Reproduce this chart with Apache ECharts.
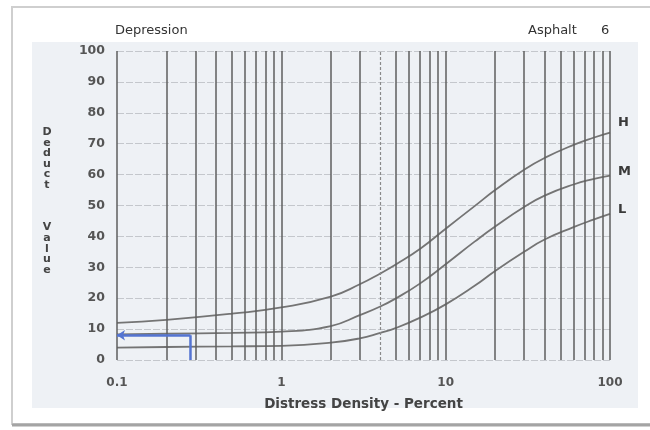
<!DOCTYPE html>
<html>
<head>
<meta charset="utf-8">
<script src="https://cdn.jsdelivr.net/npm/echarts@6/dist/echarts.min.js"></script>
<style>
  html, body { margin: 0; padding: 0; background: #ffffff; }
  #chart { width: 650px; height: 430px; }
</style>
</head>
<body>
<div id="chart"></div>
<script>
// Distress density (percent) sample points shared by the three severity curves
const densities = [0.1, 0.2, 0.5, 1, 2, 3, 4, 5, 7, 10, 15, 20, 30, 40, 60, 80, 100];
// Deduct values per severity level
const highValues   = [12, 13, 15, 17, 20.5, 24.5, 28, 31, 36, 42.5, 49.8, 55, 61.6, 65.4, 69.6, 72, 73.6];
const mediumValues = [8.3, 8.5, 8.8, 9.2, 11, 14.5, 17.3, 20, 24.8, 31, 38.3, 43.2, 49.5, 53.2, 56.8, 58.6, 59.7];
const lowValues    = [4, 4.2, 4.4, 4.6, 5.6, 7, 8.8, 10.4, 13.7, 18, 24, 28.8, 35, 39, 43, 45.5, 47.3];
// Example reading: density 0.28 % -> deduct value 8
const exampleDensity = 0.28;
const exampleDeduct = 8;
// Log-paper vertical rulings
const rulings = [0.1, 0.2, 0.3, 0.4, 0.5, 0.6, 0.7, 0.8, 0.9,
                 1, 2, 3, 4, 5, 6, 7, 8, 9,
                 10, 20, 30, 40, 50, 60, 70, 80, 90, 100];
const dashedRulings = [4];
const yTicks = [0, 10, 20, 30, 40, 50, 60, 70, 80, 90, 100];

const pairs = vals => densities.map((d, i) => [d, vals[i]]);

const chart = echarts.init(document.getElementById('chart'), null, { renderer: 'canvas' });

const curveStyle = { color: '#747474', width: 1.8 };
const endLabel = (dy) => ({
  show: true,
  formatter: '{a}',
  offset: [8, dy],
  distance: 0,
  color: '#3a3a3a',
  fontFamily: 'DejaVu Sans',
  fontWeight: 'bold',
  fontSize: 13
});
const curve = (name, vals, dy) => ({
  name, type: 'line', data: pairs(vals), smooth: 0.5, symbol: 'none',
  lineStyle: curveStyle, itemStyle: { color: '#747474' }, z: 3, endLabel: endLabel(dy)
});

chart.setOption({
  animation: false,
  backgroundColor: '#ffffff',
  graphic: [
    { type: 'rect', z: -10, shape: { x: 12, y: 7, width: 700, height: 417 },
      style: { fill: '#ffffff', stroke: '#cfcfcf', lineWidth: 2 } },
    { type: 'line', z: -9, shape: { x1: 12, y1: 425, x2: 650, y2: 425 },
      style: { stroke: '#a4a4a4', lineWidth: 3 } },
    { type: 'rect', z: -8, shape: { x: 32, y: 42, width: 606, height: 366 },
      style: { fill: '#eef1f5' } },
    { type: 'text', left: 115, top: 24,
      style: { text: 'Depression', fill: '#333', font: '13px "DejaVu Sans"' } },
    { type: 'text', left: 528, top: 24,
      style: { text: 'Asphalt', fill: '#333', font: '13px "DejaVu Sans"' } },
    { type: 'text', left: 601, top: 24,
      style: { text: '6', fill: '#333', font: '13px "DejaVu Sans"' } },
    { type: 'text', x: 47, y: 201,
      style: { text: 'D\ne\nd\nu\nc\nt\n\n\n\nV\na\nl\nu\ne', fill: '#444',
               font: 'bold 11px "DejaVu Sans"', lineHeight: 10.6,
               align: 'center', verticalAlign: 'middle' } }
  ],
  grid: { left: 117, right: 40, top: 51, bottom: 70, containLabel: false },
  xAxis: {
    type: 'log', logBase: 10, min: 0.1, max: 100,
    name: 'Distress Density - Percent',
    nameLocation: 'middle', nameGap: 37,
    nameTextStyle: { color: '#444', fontFamily: 'DejaVu Sans', fontWeight: 'bold', fontSize: 13.5 },
    axisLine: { show: false },
    axisTick: { show: false },
    splitLine: { show: false },
    axisLabel: { margin: 17, color: '#555', fontFamily: 'DejaVu Sans', fontWeight: 'bold', fontSize: 12,
                 formatter: v => String(v) }
  },
  yAxis: {
    type: 'value', min: yTicks[0], max: yTicks[yTicks.length - 1], interval: 10,
    axisLine: { show: false },
    axisTick: { show: false },
    axisLabel: { margin: 12, color: '#555', fontFamily: 'DejaVu Sans', fontWeight: 'bold', fontSize: 12.5 },
    splitLine: { show: true, lineStyle: { color: '#c4c7cc', width: 1, type: [7, 2] } }
  },
  series: [
    {
      name: 'rulings', type: 'line', data: [], silent: true, z: 1,
      markLine: {
        silent: true, symbol: 'none', label: { show: false }, animation: false,
        data: rulings.map(v => ({
          xAxis: v,
          lineStyle: dashedRulings.includes(v)
            ? { color: '#8a8a8a', width: 1.2, type: [3, 2] }
            : { color: '#5e5e5e', width: 1.5, type: 'solid' }
        }))
      }
    },
    curve('H', highValues, -10),
    curve('M', mediumValues, -4),
    curve('L', lowValues, -4),
    {
      name: 'example', type: 'line', symbol: 'none', z: 4,
      data: [[exampleDensity, 0], [exampleDensity, exampleDeduct]],
      lineStyle: { color: '#5474d2', width: 2.5 },
      markLine: {
        silent: true, animation: false, label: { show: false }, symbolSize: [8, 8],
        lineStyle: { color: '#5474d2', width: 2.5, type: 'solid' },
        data: [[
          { coord: [exampleDensity, exampleDeduct], symbol: 'none' },
          { coord: [0.1, exampleDeduct], symbol: 'arrow' }
        ]]
      }
    }
  ]
});
</script>
</body>
</html>
